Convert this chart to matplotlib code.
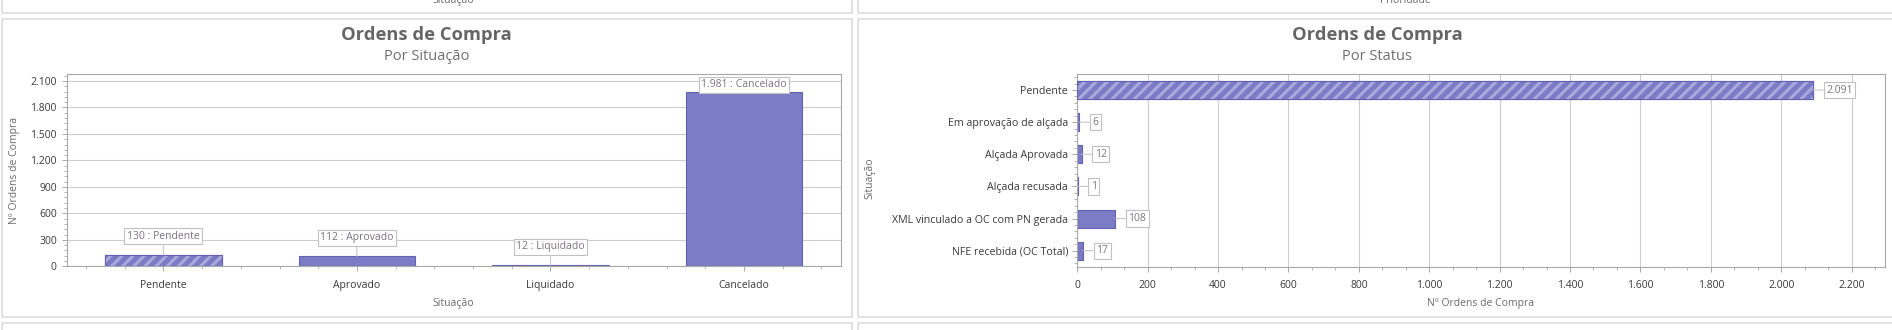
import matplotlib
matplotlib.use("Agg")
import matplotlib.pyplot as plt
from matplotlib.patches import Rectangle
from matplotlib.ticker import MultipleLocator, FuncFormatter

# Data
sit_labels = ["Pendente", "Aprovado", "Liquidado", "Cancelado"]
sit_values = [130, 112, 12, 1981]
sit_hatched = [True, False, False, False]

status_labels = ["Pendente", "Em aprovação de alçada", "Alçada Aprovada",
                 "Alçada recusada", "XML vinculado a OC com PN gerada",
                 "NFE recebida (OC Total)"]
status_values = [2091, 6, 12, 1, 108, 17]
status_hatched = [True, False, False, False, False, False]

# Style
W, H = 1892, 330
bar_c = "#7b7bc6"
bar_edge = "#6262b0"
hatch_c = "#a9a9dd"
grid_c = "#cccccc"
spine_c = "#a8a8a8"
panel_c = "#dedede"
tick_txt = "#3a3a3a"
lab_txt = "#6a6a6a"

plt.rcParams['font.family'] = ['Open Sans', 'DejaVu Sans']
plt.rcParams['hatch.linewidth'] = 2.2

fig = plt.figure(figsize=(W / 100, H / 100), dpi=100)

def fx(px):
    return px / W

def fy(py):
    return 1 - py / H

def thousands(v, pos=None):
    return f"{int(round(v)):,}".replace(",", ".")

# panel frames
def frame(x0, y0, x1, y1):
    fig.patches.append(Rectangle((fx(x0), fy(y1)), fx(x1) - fx(x0), fy(y0) - fy(y1),
                                 transform=fig.transFigure, fill=False,
                                 ec=panel_c, lw=1.3, zorder=0))

for x0, x1 in [(1.7, 851.7), (857.5, 1900)]:
    frame(x0, -40, x1, 12.7)
    frame(x0, 18.5, x1, 316.7)
    frame(x0, 323.3, x1, 400)

# titles of the panels above, cut off by the screenshot edge
fig.text(fx(453), fy(3), "Situação", ha="center", va="baseline", fontsize=7.5, color=lab_txt)
fig.text(fx(1405), fy(3), "Prioridade", ha="center", va="baseline", fontsize=7.5, color=lab_txt)

def style_axes(ax):
    for s in ax.spines.values():
        s.set_color(spine_c)
        s.set_linewidth(0.8)
    ax.tick_params(which="major", length=3.6, width=0.7, color=spine_c,
                   labelsize=7.5, labelcolor=tick_txt, direction="out")
    ax.tick_params(which="minor", length=2.2, width=0.6, color=spine_c, direction="out")
    ax.tick_params(top=False, right=False, which="both")
    ax.set_axisbelow(True)

box = dict(boxstyle="square,pad=0.25", fc="white", ec="#c0c0c0", lw=0.8)
line = dict(arrowstyle="-", color="#c8c8c8", lw=0.8, shrinkA=0, shrinkB=0)

# ---------------- left chart ----------------
ax1 = fig.add_axes([fx(66.7), fy(266.3), fx(840.7) - fx(66.7), fy(74.3) - fy(266.3)])
xs = list(range(len(sit_labels)))
ax1.bar(xs, sit_values, width=0.6, color=bar_c, edgecolor=bar_edge, lw=0.8, zorder=2)
for i, v in enumerate(sit_values):
    if sit_hatched[i]:
        ax1.bar(i, v, width=0.6, color="none", edgecolor=hatch_c, hatch="///", lw=0, zorder=3)
        ax1.bar(i, v, width=0.6, color="none", edgecolor=bar_edge, lw=0.8, zorder=4)
ax1.set_xlim(-0.5, 3.5)
ax1.set_ylim(0, 2176)
ax1.set_xticks(xs)
ax1.set_xticklabels(sit_labels)
ax1.yaxis.set_major_locator(MultipleLocator(300))
ax1.yaxis.set_minor_locator(MultipleLocator(60))
ax1.xaxis.set_minor_locator(MultipleLocator(0.2))
ax1.yaxis.set_major_formatter(FuncFormatter(thousands))
ax1.grid(axis="y", color=grid_c, lw=0.8)
style_axes(ax1)
ax1.tick_params(axis="x", pad=6)

top_px = ax1.transAxes.transform((0, 1))[1]
for i, v in enumerate(sit_values):
    bar_px = ax1.transData.transform((i, v))[1]
    off = min(18.5, top_px - 10.5 - bar_px)
    ax1.annotate(f"{thousands(v)} : {sit_labels[i]}", xy=(i, v), xytext=(0, off),
                 textcoords="offset pixels", ha="center", va="center",
                 fontsize=7.5, color="#7a7480", bbox=box, arrowprops=line, zorder=5)

fig.text(fx(426.7), fy(35), "Ordens de Compra", ha="center", va="center",
         fontsize=13.2, fontweight="bold", color="#666666")
fig.text(fx(426.7), fy(57), "Por Situação", ha="center", va="center",
         fontsize=10.5, color="#707070")
fig.text(fx(15), fy(170), "Nº Ordens de Compra", ha="center", va="center",
         rotation=90, fontsize=7.5, color=lab_txt)
fig.text(fx(453.7), fy(303.3), "Situação", ha="center", va="center",
         fontsize=7.5, color=lab_txt)

# ---------------- right chart ----------------
ax2 = fig.add_axes([fx(1077.3), fy(266.7), fx(1885) - fx(1077.3), fy(74) - fy(266.7)])
ys = list(range(len(status_labels)))
ax2.barh(ys, status_values, height=0.56, color=bar_c, edgecolor=bar_edge, lw=0.8, zorder=2)
for i, v in enumerate(status_values):
    if status_hatched[i]:
        ax2.barh(i, v, height=0.56, color="none", edgecolor=hatch_c, hatch="///", lw=0, zorder=3)
        ax2.barh(i, v, height=0.56, color="none", edgecolor=bar_edge, lw=0.8, zorder=4)
ax2.set_ylim(5.5, -0.5)
ax2.set_xlim(0, 2295)
ax2.set_yticks(ys)
ax2.set_yticklabels(status_labels)
ax2.xaxis.set_major_locator(MultipleLocator(200))
ax2.xaxis.set_minor_locator(MultipleLocator(200 / 3))
ax2.yaxis.set_minor_locator(MultipleLocator(0.2))
ax2.xaxis.set_major_formatter(FuncFormatter(thousands))
ax2.grid(axis="x", color=grid_c, lw=0.8)
style_axes(ax2)
ax2.tick_params(axis="x", pad=6)
ax2.tick_params(axis="y", pad=3, labelsize=7.7)

for i, v in enumerate(status_values):
    ax2.annotate(thousands(v), xy=(v, i), xytext=(13, 0), textcoords="offset pixels",
                 ha="left", va="center", fontsize=7.5, color="#7a7480",
                 bbox=box, arrowprops=line, zorder=5)

fig.text(fx(1377), fy(35), "Ordens de Compra", ha="center", va="center",
         fontsize=13.2, fontweight="bold", color="#666666")
fig.text(fx(1377), fy(57), "Por Status", ha="center", va="center",
         fontsize=10.5, color="#707070")
fig.text(fx(870), fy(178), "Situação", ha="center", va="center",
         rotation=90, fontsize=7.5, color=lab_txt)
fig.text(fx(1481), fy(303.3), "Nº Ordens de Compra", ha="center", va="center",
         fontsize=7.5, color=lab_txt)

fig.savefig("out.png", dpi=100, facecolor="white")
